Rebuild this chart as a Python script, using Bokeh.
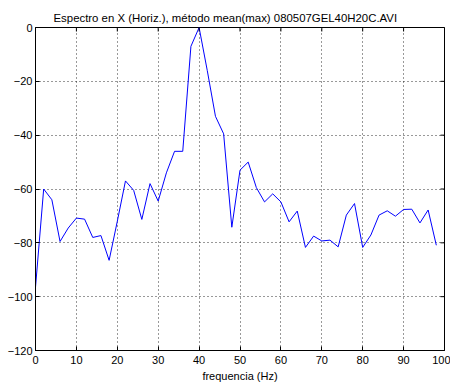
import math
from bokeh.plotting import figure
from bokeh.models import Range1d, FixedTicker
from bokeh.embed import file_html
from bokeh.resources import INLINE

freq = list(range(0, 100, 2))
amp = [-96.5, -60, -64, -79.5, -74.5, -70.8, -71.2, -78, -77.3, -86.5,
       -72, -57, -60.5, -71.3, -58, -64.5, -54, -46, -46, -7,
       0, -16, -33, -39.5, -74.2, -53, -50, -59.5, -64.8, -61.8,
       -64.8, -72.2, -68.2, -81.7, -77.5, -79.3, -79, -81.5, -69.7, -65.4,
       -81.7, -77.1, -69.7, -68.1, -70.1, -67.6, -67.5, -72.6, -67.8, -80.9]
xticks = list(range(0, 101, 10))
yticks = list(range(-120, 1, 20))
title_text = "Espectro en X (Horiz.), método mean(max) 080507GEL40H20C.AVI"
xlabel = "frequencia (Hz)"

FONT = "Liberation Sans"
XMIN, XMAX, YMIN, YMAX = 0, 100, -120, 0

p = figure(width=450, height=385, output_backend="svg", toolbar_location=None,
           x_range=Range1d(XMIN, XMAX), y_range=Range1d(YMIN, YMAX),
           min_border_left=35, min_border_right=6, min_border_top=27, min_border_bottom=35)
p.background_fill_color = "white"
p.border_fill_color = "white"
p.outline_line_color = "black"
p.outline_line_width = 1

p.title.text = title_text
p.title.align = "left"
p.title.offset = 18
p.title.standoff = 8
p.title.text_font = FONT
p.title.text_font_size = "11.4px"
p.title.text_font_style = "normal"
p.title.text_color = "black"

for g in (p.xgrid, p.ygrid):
    g.grid_line_color = "black"
    g.grid_line_dash = "1 3"
    g.grid_line_width = 1
    g.grid_line_alpha = 0.8
p.xgrid.ticker = FixedTicker(ticks=xticks)
p.ygrid.ticker = FixedTicker(ticks=yticks)

p.line(freq, amp, line_color="#0000ff", line_width=1)

# inward ticks on the top and right edges (clipped half of a centred dash)
p.scatter(xticks, [YMAX] * len(xticks), marker="dash", angle=math.pi / 2, size=8,
          line_color="black", line_width=1)
p.scatter([XMAX] * len(yticks), yticks, marker="dash", size=8,
          line_color="black", line_width=1)

for ax in p.xaxis:
    ax.ticker = FixedTicker(ticks=xticks)
    ax.axis_label = xlabel
for ax in p.yaxis:
    ax.ticker = FixedTicker(ticks=yticks)

for ax in list(p.xaxis) + list(p.yaxis):
    ax.major_tick_in = 4
    ax.major_tick_out = 0
    ax.minor_tick_in = 0
    ax.minor_tick_out = 0
    ax.axis_line_color = "black"
    ax.major_tick_line_color = "black"
    ax.major_label_text_font = FONT
    ax.major_label_text_font_size = "11px"
    ax.major_label_text_color = "black"
    ax.axis_label_text_font = FONT
    ax.axis_label_text_font_size = "11px"
    ax.axis_label_text_font_style = "normal"
    ax.axis_label_text_color = "black"
    ax.major_label_standoff = 3
    ax.axis_label_standoff = 3
for ax in p.xaxis:
    ax.major_label_standoff = 5

open("out.html", "w").write(file_html(p, INLINE))
